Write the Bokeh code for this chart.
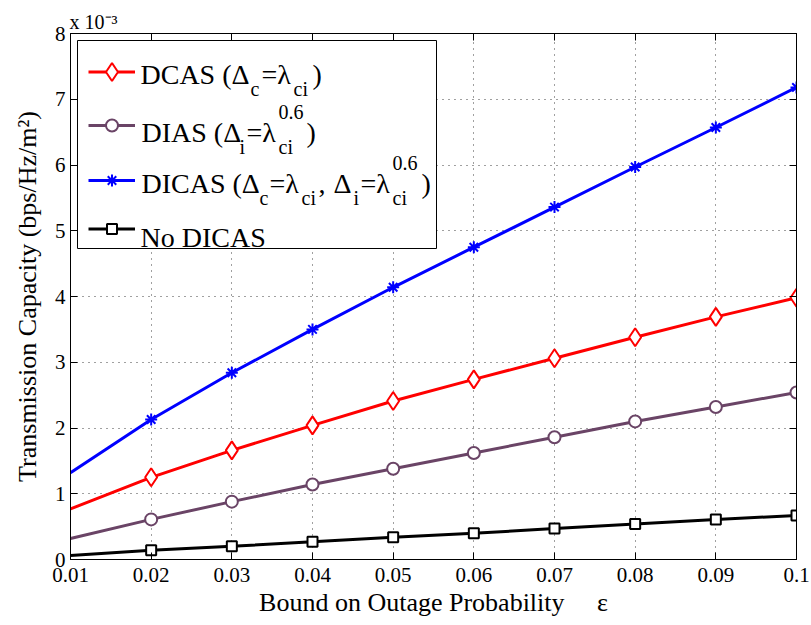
from bokeh.plotting import figure
from bokeh.models import (FixedTicker, LinearAxis, Label, Legend, LegendItem,
                          BoxAnnotation, CustomJSTickFormatter, Range1d, Title)
from bokeh.core.properties import value
from bokeh.embed import file_html
from bokeh.resources import INLINE

# ---------------- data (capacity values in units of 1e-3 bps/Hz/m^2) -------------
eps = [0.01, 0.02, 0.03, 0.04, 0.05, 0.06, 0.07, 0.08, 0.09, 0.1]
x_tick_labels = ["0.01", "0.02", "0.03", "0.04", "0.05", "0.06", "0.07", "0.08", "0.09", "0.1"]
y_ticks = [0, 1, 2, 3, 4, 5, 6, 7, 8]
y_tick_labels = ["0", "1", "2", "3", "4", "5", "6", "7", "8"]

dcas = [0.77, 1.25, 1.66, 2.04, 2.41, 2.74, 3.06, 3.38, 3.69, 3.98]
dias = [0.32, 0.61, 0.88, 1.14, 1.38, 1.62, 1.86, 2.10, 2.32, 2.54]
dicas = [1.32, 2.13, 2.84, 3.50, 4.14, 4.75, 5.36, 5.97, 6.57, 7.18]
no_dicas = [0.06, 0.14, 0.20, 0.27, 0.34, 0.40, 0.47, 0.54, 0.61, 0.67]

series = [dcas, dias, dicas, no_dicas]
colors = ["#ff0000", "#6a4466", "#0000ff", "#000000"]
markers = ["diamond", "circle", "asterisk", "square"]
marker_sizes = [18, 12, 12, 10]

SERIF = "Liberation Serif"

# ---------------- figure ----------------
p = figure(width=811, height=625, output_backend="svg", toolbar_location=None,
           x_range=Range1d(0.01, 0.1), y_range=Range1d(0, 8),
           min_border_left=70, min_border_right=15, min_border_top=33,
           min_border_bottom=66, background_fill_color="white",
           border_fill_color="white")
p.outline_line_color = "black"
p.outline_line_alpha = 1.0

fmt_js = ("const i = tvals.findIndex(t => Math.abs(t - tick) < 1e-9);"
          "return i >= 0 ? tlabels[i] : '';")
p.xaxis.ticker = FixedTicker(ticks=eps)
p.xaxis.formatter = CustomJSTickFormatter(args=dict(tvals=eps, tlabels=x_tick_labels), code=fmt_js)
p.yaxis.ticker = FixedTicker(ticks=y_ticks)
p.yaxis.formatter = CustomJSTickFormatter(args=dict(tvals=y_ticks, tlabels=y_tick_labels), code=fmt_js)

for ax in list(p.xaxis) + list(p.yaxis):
    ax.major_tick_in = 7
    ax.major_tick_out = 0
    ax.minor_tick_line_color = None
    ax.axis_line_color = "black"
    ax.major_tick_line_color = "black"
    ax.major_label_text_font = SERIF
    ax.major_label_text_font_size = "21px"
    ax.major_label_text_color = "black"
    ax.axis_label_text_font = SERIF
    ax.axis_label_text_font_size = "26px"
    ax.axis_label_text_font_style = "normal"
    ax.axis_label_text_color = "black"

p.xaxis.axis_label = "Bound on Outage Probability\u00a0\u00a0\u00a0\u00a0\u00a0\u03b5"
p.xaxis.major_label_standoff = 8
p.xaxis.axis_label_standoff = 3
p.yaxis.axis_label = "Transmission Capacity (bps/Hz/m\u00b2)"
p.yaxis.major_label_standoff = 5
p.yaxis.axis_label_standoff = 10

blank = CustomJSTickFormatter(code="return '';")
top_ax = LinearAxis(ticker=FixedTicker(ticks=eps), formatter=blank,
                    major_tick_in=7, major_tick_out=0, minor_tick_line_color=None,
                    major_label_standoff=0, axis_line_color="black",
                    major_label_text_font_size="1px")
right_ax = LinearAxis(ticker=FixedTicker(ticks=y_ticks), formatter=blank,
                      major_tick_in=7, major_tick_out=0, minor_tick_line_color=None,
                      major_label_standoff=0, axis_line_color="black",
                      major_label_text_font_size="1px")
p.add_layout(top_ax, "above")
p.add_layout(right_ax, "right")

# exponent marker of the y axis (x 10^-3), placed above the frame
p.add_layout(Title(text="x 10\u207b\u00b3", align="left", offset=-1, standoff=2,
                   text_font=SERIF, text_font_size="20px",
                   text_font_style="normal", text_color="black"), "above")

p.xgrid.ticker = FixedTicker(ticks=eps)
p.ygrid.ticker = FixedTicker(ticks=y_ticks)
p.grid.grid_line_color = "#404040"
p.grid.grid_line_dash = "1 5"
p.grid.grid_line_width = 1

# ---------------- series ----------------
renderers = []
for ys, c, m, s in zip(series, colors, markers, marker_sizes):
    lr = p.line(eps, ys, line_color=c, line_width=3)
    sr = p.scatter(eps[1:], ys[1:], marker=m, size=s, line_color=c,
                   fill_color="white", line_width=2)
    renderers.append((lr, sr))

# ---------------- legend (frame-relative screen coords) ----------------
FL, FB = 70, 559  # frame left / bottom on the canvas
box = BoxAnnotation(left=77 - FL, right=436 - FL, top=FB - 40, bottom=FB - 248,
                    left_units="screen", right_units="screen",
                    top_units="screen", bottom_units="screen",
                    fill_color="white", fill_alpha=1.0,
                    line_color="black", line_width=1, line_alpha=1.0)
p.add_layout(box)

row_centers = [71, 125, 180, 228]
glyph_heights = [45, 30, 30, 25]
for (lr, sr), cy, gh in zip(renderers, row_centers, glyph_heights):
    lg = Legend(items=[LegendItem(label=value(""), renderers=[lr, sr])],
                location=(88 - FL, FB - (cy + gh / 2)),
                glyph_width=47, glyph_height=gh, padding=0, margin=0,
                spacing=0, label_standoff=0, label_width=0, label_height=0,
                border_line_color=None, background_fill_alpha=0.0)
    p.add_layout(lg)

main_baselines = [74, 132, 183, 237]
SUB_OFF, SUP_OFF = 14, -21
legend_rows = [
    [("DCAS (\u0394", 140, "main"), ("c", 250, "sub"), ("=\u03bb", 261, "main"),
     ("ci", 293, "sub"), (")", 312, "main")],
    [("DIAS (\u0394", 141, "main"), ("i", 239, "sub"), ("=\u03bb", 246, "main"),
     ("0.6", 278, "sup"), ("ci", 278, "sub"), (")", 306, "main")],
    [("DICAS (\u0394", 141, "main"), ("c", 259, "sub"), ("=\u03bb", 269, "main"),
     ("ci", 301, "sub"), (",", 318, "main"), ("\u0394", 333, "main"),
     ("i", 353, "sub"), ("=\u03bb", 360, "main"), ("0.6", 392, "sup"),
     ("ci", 392, "sub"), (")", 421, "main")],
    [("No DICAS", 140, "main")],
]
for pieces, base in zip(legend_rows, main_baselines):
    for txt, x, role in pieces:
        if role == "main":
            y, fs = base, "28px"
        elif role == "sub":
            y, fs = base + SUB_OFF, "20px"
        else:
            y, fs = base + SUP_OFF, "20px"
        p.add_layout(Label(x=x - FL, y=FB - y, x_units="screen", y_units="screen",
                           text=txt, text_font=SERIF, text_font_size=fs,
                           text_color="black", text_align="left",
                           text_baseline="alphabetic"))

open("out.html", "w").write(file_html(p, INLINE))
